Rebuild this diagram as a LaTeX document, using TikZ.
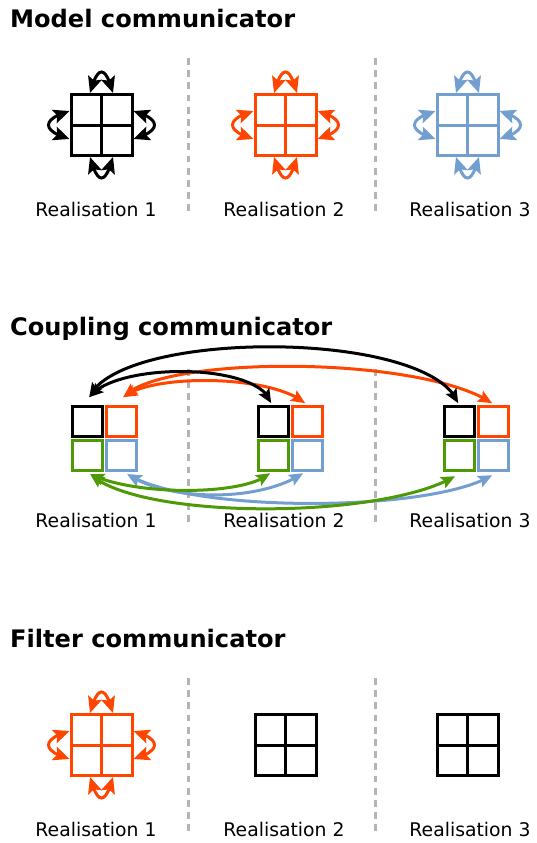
\documentclass[tikz,border=0pt]{standalone}
\usepackage{fontspec}
\setmainfont{DejaVu Sans}
\usetikzlibrary{arrows.meta,bending,calc}
\definecolor{cred}{RGB}{255,69,0}
\definecolor{cblue}{RGB}{114,159,207}
\definecolor{cgreen}{RGB}{78,154,6}
\definecolor{cgray}{RGB}{180,180,180}
\newcommand\ttlfont{\fontsize{24.1pt}{29pt}\selectfont\bfseries}
\newcommand\labfont{\fontsize{18.8pt}{22pt}\selectfont}
\tikzset{
  ttl/.style={font=\ttlfont, anchor=base west, inner sep=0pt},
  lab/.style={font=\labfont, anchor=base, inner sep=0pt},
  sep/.style={cgray, line width=3pt, dash pattern=on 6.7pt off 5.5pt},
  sq/.style={draw, line width=3pt, minimum size=30pt, inner sep=0pt, outer sep=1.5pt},
  dbl/.style={line width=3pt, {Stealth[length=16pt,width=14pt,inset=3pt]}-{Stealth[length=16pt,width=14pt,inset=3pt]}},
  cdbl/.style={line width=3pt, {Stealth[length=14pt,width=12pt,inset=2.5pt]}-{Stealth[length=14pt,width=12pt,inset=2.5pt]}},
  pics/cgrid/.style={code={
    \draw[line width=3pt, #1] (-30.5,-30.5) rectangle (30.5,30.5)
      (0,-30.5) -- (0,30.5) (-30.5,0) -- (30.5,0);
  }},
  pics/carrows/.style={code={
    \draw[dbl, #1] (-11.5,-32) .. controls (-4,-60) and (4,-60) .. (11.5,-32);
    \draw[dbl, #1] (-11.5,32) .. controls (-4,60) and (4,60) .. (11.5,32);
    \draw[dbl, #1] (-32,-14) .. controls (-60,-6) and (-60,6) .. (-32,14);
    \draw[dbl, #1] (32,-14) .. controls (60,-6) and (60,6) .. (32,14);
  }}
}
\begin{document}
\begin{tikzpicture}[x=1pt, y=-1pt]
\useasboundingbox (0,0) rectangle (537,843);

% ---------------- Model communicator ----------------
\node[ttl] (t1) at (10,27.3) {Model communicator};
\draw[sep] (188,58) -- (188,211);
\draw[sep] (375,58) -- (375,211);
\pic at (101.5,125) {cgrid=black};
\pic at (101.5,125) {carrows=black};
\pic at (285.5,125) {cgrid=cred};
\pic at (285.5,125) {carrows=cred};
\pic at (467.5,125) {cgrid=cblue};
\pic at (467.5,125) {carrows=cblue};
\node[lab] (l11) at (96,216.5) {Realisation 1};
\node[lab] (l12) at (284,216.5) {Realisation 2};
\node[lab] (l13) at (470,216.5) {Realisation 3};

% ---------------- Coupling communicator ----------------
\node[ttl] (t2) at (10,335) {Coupling communicator};
\draw[sep] (188,369) -- (188,522);
\draw[sep] (375,369) -- (375,522);
\foreach \i/\X in {1/104.2, 2/290.2, 3/476.2} {
  \node[sq, black]  (k\i) at (\X-17,421.7) {};
  \node[sq, cred]   (r\i) at (\X+17,421.7) {};
  \node[sq, cgreen] (g\i) at (\X-17,455.7) {};
  \node[sq, cblue]  (u\i) at (\X+17,455.7) {};
}
% top arcs
\draw[cdbl, cred] ([xshift=2pt,yshift=8pt]r1.north) .. controls (160,355) and (420,355) .. ([xshift=-1pt,yshift=2pt]r3.north);
\draw[cdbl, black] ([xshift=2pt,yshift=8pt]k1.north) .. controls (120,329) and (430,329) .. ([xshift=-1pt,yshift=2pt]k3.north);
\draw[cdbl, cred] ([xshift=2pt,yshift=8pt]r1.north) .. controls (150,374) and (270,374) .. ([xshift=-2pt,yshift=2pt]r2.north);
\draw[cdbl, black] ([xshift=2pt,yshift=8pt]k1.north) .. controls (115,362) and (260,362) .. ([xshift=-2pt,yshift=2pt]k2.north);
% bottom arcs
\draw[cdbl, cblue] ([xshift=6pt,yshift=-2pt]u1.south) .. controls (190,513) and (430,513) .. ([xshift=-1pt,yshift=-3pt]u3.south);
\draw[cdbl, cgreen] ([xshift=3pt,yshift=-2pt]g1.south) .. controls (140,520) and (380,520) .. ([xshift=-4pt,yshift=-4pt]g3.south);
\draw[cdbl, cblue] ([xshift=6pt,yshift=-2pt]u1.south) .. controls (170,502) and (260,502) .. ([xshift=-4pt,yshift=-1pt]u2.south);
\draw[cdbl, cgreen] ([xshift=3pt,yshift=-2pt]g1.south) .. controls (135,496) and (245,496) .. ([xshift=-3pt,yshift=-1pt]g2.south);
\node[lab] (l21) at (96,527.5) {Realisation 1};
\node[lab] (l22) at (284,527.5) {Realisation 2};
\node[lab] (l23) at (470,527.5) {Realisation 3};

% ---------------- Filter communicator ----------------
\node[ttl] (t3) at (10,647.3) {Filter communicator};
\draw[sep] (188,678) -- (188,831);
\draw[sep] (375,678) -- (375,831);
\pic at (101.5,745) {cgrid=cred};
\pic at (101.5,745) {carrows=cred};
\pic at (285.5,745) {cgrid=black};
\pic at (467.5,745) {cgrid=black};
\node[lab] (l31) at (96,836.5) {Realisation 1};
\node[lab] (l32) at (284,836.5) {Realisation 2};
\node[lab] (l33) at (470,836.5) {Realisation 3};
\end{tikzpicture}
\end{document}
